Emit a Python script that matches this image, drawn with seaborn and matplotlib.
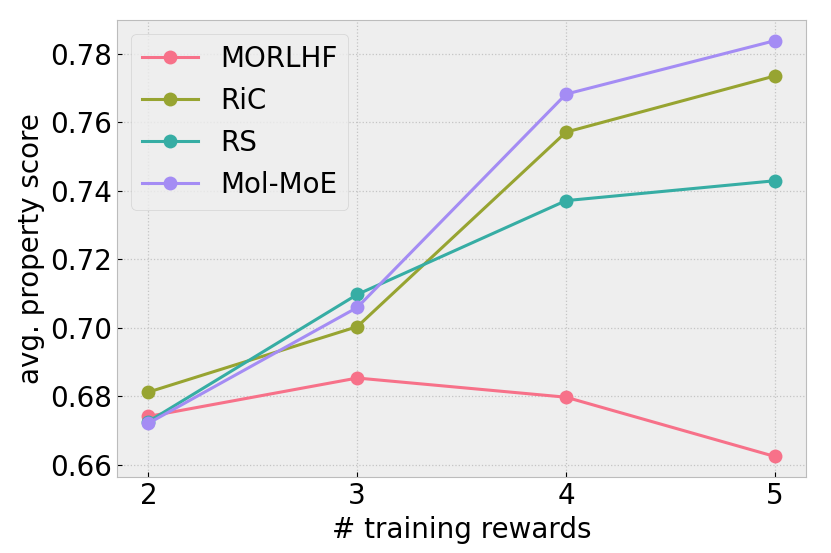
import matplotlib
matplotlib.use("Agg")
import matplotlib.pyplot as plt
import seaborn as sns
import pandas as pd

rewards = [2, 3, 4, 5]
methods = ["MORLHF", "RiC", "RS", "Mol-MoE"]
morlhf = [0.6741, 0.6853, 0.6797, 0.6624]
ric = [0.6812, 0.7003, 0.7571, 0.7735]
rs = [0.6726, 0.7097, 0.7371, 0.7429]
molmoe = [0.6721, 0.7059, 0.7682, 0.7838]

rows = []
for name, vals in zip(methods, [morlhf, ric, rs, molmoe]):
    for r, v in zip(rewards, vals):
        rows.append({"# training rewards": r, "avg. property score": v, "method": name})
df = pd.DataFrame(rows)

plt.style.use("bmh")
plt.rcParams["font.family"] = ["DejaVu Sans"]
fig, ax = plt.subplots(figsize=(8.31, 5.53), dpi=100)
pal = sns.color_palette("husl", 4)
sns.lineplot(data=df, x="# training rewards", y="avg. property score", hue="method",
             hue_order=methods, palette=pal, marker="o", markersize=10,
             markeredgewidth=0, linewidth=2.2, ax=ax)
ax.grid(True, linestyle=":", color="#c4c4c4", linewidth=0.9)
ax.set_xticks(rewards)
ax.tick_params(labelsize=20)
ax.set_xlabel("# training rewards", fontsize=20)
ax.set_ylabel("avg. property score", fontsize=20)
ax.set_yticks([0.66, 0.68, 0.70, 0.72, 0.74, 0.76, 0.78])
ax.legend(fontsize=20, loc="upper left")
fig.subplots_adjust(left=0.141, right=0.970, top=0.964, bottom=0.137)
fig.savefig("out.png", dpi=100)
